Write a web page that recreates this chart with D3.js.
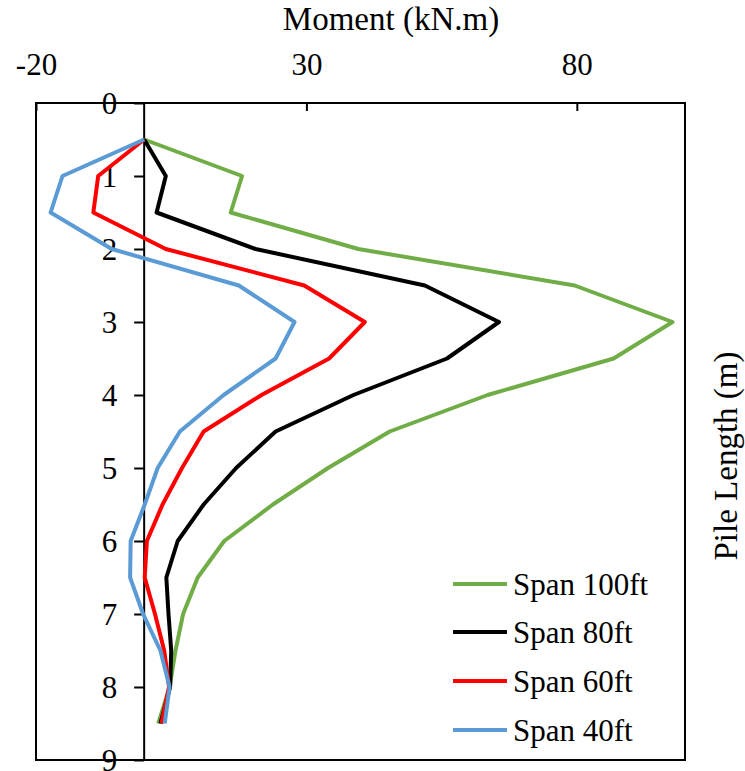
<!DOCTYPE html>
<html>
<head>
<meta charset="utf-8">
<script src="https://cdn.jsdelivr.net/npm/d3@7"></script>
<style>
  html, body { margin: 0; padding: 0; background: #fff; }
  svg text { font-family: "Liberation Serif", "Times New Roman", serif; fill: #000; }
</style>
</head>
<body>
<svg id="chart" width="745" height="771"></svg>
<script>
// ---- data ----
const depths = [0.5, 1, 1.5, 2, 2.5, 3, 3.5, 4, 4.5, 5, 5.5, 6, 6.5, 7, 7.5, 8, 8.5];
const span100 = [0, 18.1, 16.0, 39.6, 79.6, 97.7, 86.8, 63.5, 45.4, 34.0, 23.8, 14.8, 9.9, 7.2, 5.8, 4.7, 2.6];
const span80  = [0, 4.0, 2.3, 20.6, 51.9, 65.6, 56.0, 38.7, 24.3, 17.0, 11.0, 6.2, 4.1, 4.5, 5.0, 4.8, 3.0];
const span60  = [0, -8.5, -9.4, 4.0, 29.6, 40.8, 34.2, 21.7, 11.0, 7.0, 3.4, 0.5, 0.1, 2.0, 3.7, 4.6, 3.2];
const span40  = [0, -15.1, -17.3, -6.0, 17.5, 27.8, 24.3, 14.7, 6.6, 2.5, 0.1, -2.5, -2.6, -0.2, 3.0, 4.7, 3.8];
const seriesNames = ["Span 100ft", "Span 80ft", "Span 60ft", "Span 40ft"];
const seriesColors = ["#70AD47", "#000000", "#FF0000", "#5B9BD5"];
const xTicks = [-20, 30, 80];
const yTicks = [0, 1, 2, 3, 4, 5, 6, 7, 8, 9];
const xTitle = "Moment (kN.m)";
const yTitle = "Pile Length (m)";

// ---- layout ----
const svg = d3.select("#chart");
const L = 36, R = 685, T = 103, B = 760;
const FS = 31, TFS = 33;
const x = d3.scaleLinear().domain([-20, 100]).range([L, R]);
const y = d3.scaleLinear().domain([0, 9]).range([T, B]);

const allSeries = [span100, span80, span60, span40];

// frame
svg.append("rect").attr("x", L).attr("y", T).attr("width", R - L).attr("height", B - T)
  .attr("fill", "none").attr("stroke", "#000").attr("stroke-width", 2);

// top x axis ticks (inside) and labels
const xAxis = d3.axisTop(x).tickValues(xTicks).tickSize(-8).tickPadding(0).tickFormat(d => String(d));
const gx = svg.append("g").attr("transform", `translate(0,${T})`).call(xAxis);
gx.select(".domain").remove();
gx.selectAll(".tick line").attr("stroke", "#000").attr("stroke-width", 2);
gx.selectAll(".tick text").attr("font-size", FS).attr("y", 75 - T).attr("dy", 0)
  .attr("font-family", "Liberation Serif");

// vertical axis at x = 0
const yAxis = d3.axisLeft(y).tickValues(yTicks).tickSize(10).tickPadding(17).tickFormat(d => String(d));
const gy = svg.append("g").attr("transform", `translate(${x(0)},0)`).call(yAxis);
gy.select(".domain").attr("stroke", "#000").attr("stroke-width", 2).attr("d", `M0,${T}V${B}`);
gy.selectAll(".tick line").attr("stroke", "#000").attr("stroke-width", 2);
gy.selectAll(".tick text").attr("font-size", FS).attr("font-family", "Liberation Serif").attr("dy", "0.34em");

// lines
const line = d3.line().x(d => x(d[0])).y(d => y(d[1]));
allSeries.forEach((vals, i) => {
  const pts = vals.map((v, j) => [v, depths[j]]);
  svg.append("path").datum(pts).attr("d", line)
    .attr("fill", "none").attr("stroke", seriesColors[i]).attr("stroke-width", 4)
    .attr("stroke-linejoin", "round");
});

// titles
svg.append("text").attr("x", 391).attr("y", 30).attr("text-anchor", "middle")
  .attr("font-size", TFS).text(xTitle);
svg.append("text").attr("transform", "translate(737,456) rotate(-90)").attr("text-anchor", "middle")
  .attr("font-size", TFS).text(yTitle);

// legend
const legendY = [584, 632, 681, 730];
seriesNames.forEach((name, i) => {
  svg.append("line").attr("x1", 453).attr("x2", 507).attr("y1", legendY[i]).attr("y2", legendY[i])
    .attr("stroke", seriesColors[i]).attr("stroke-width", 4);
  svg.append("text").attr("x", 513).attr("y", legendY[i]).attr("dy", "0.34em")
    .attr("font-size", FS).text(name);
});
</script>
</body>
</html>
